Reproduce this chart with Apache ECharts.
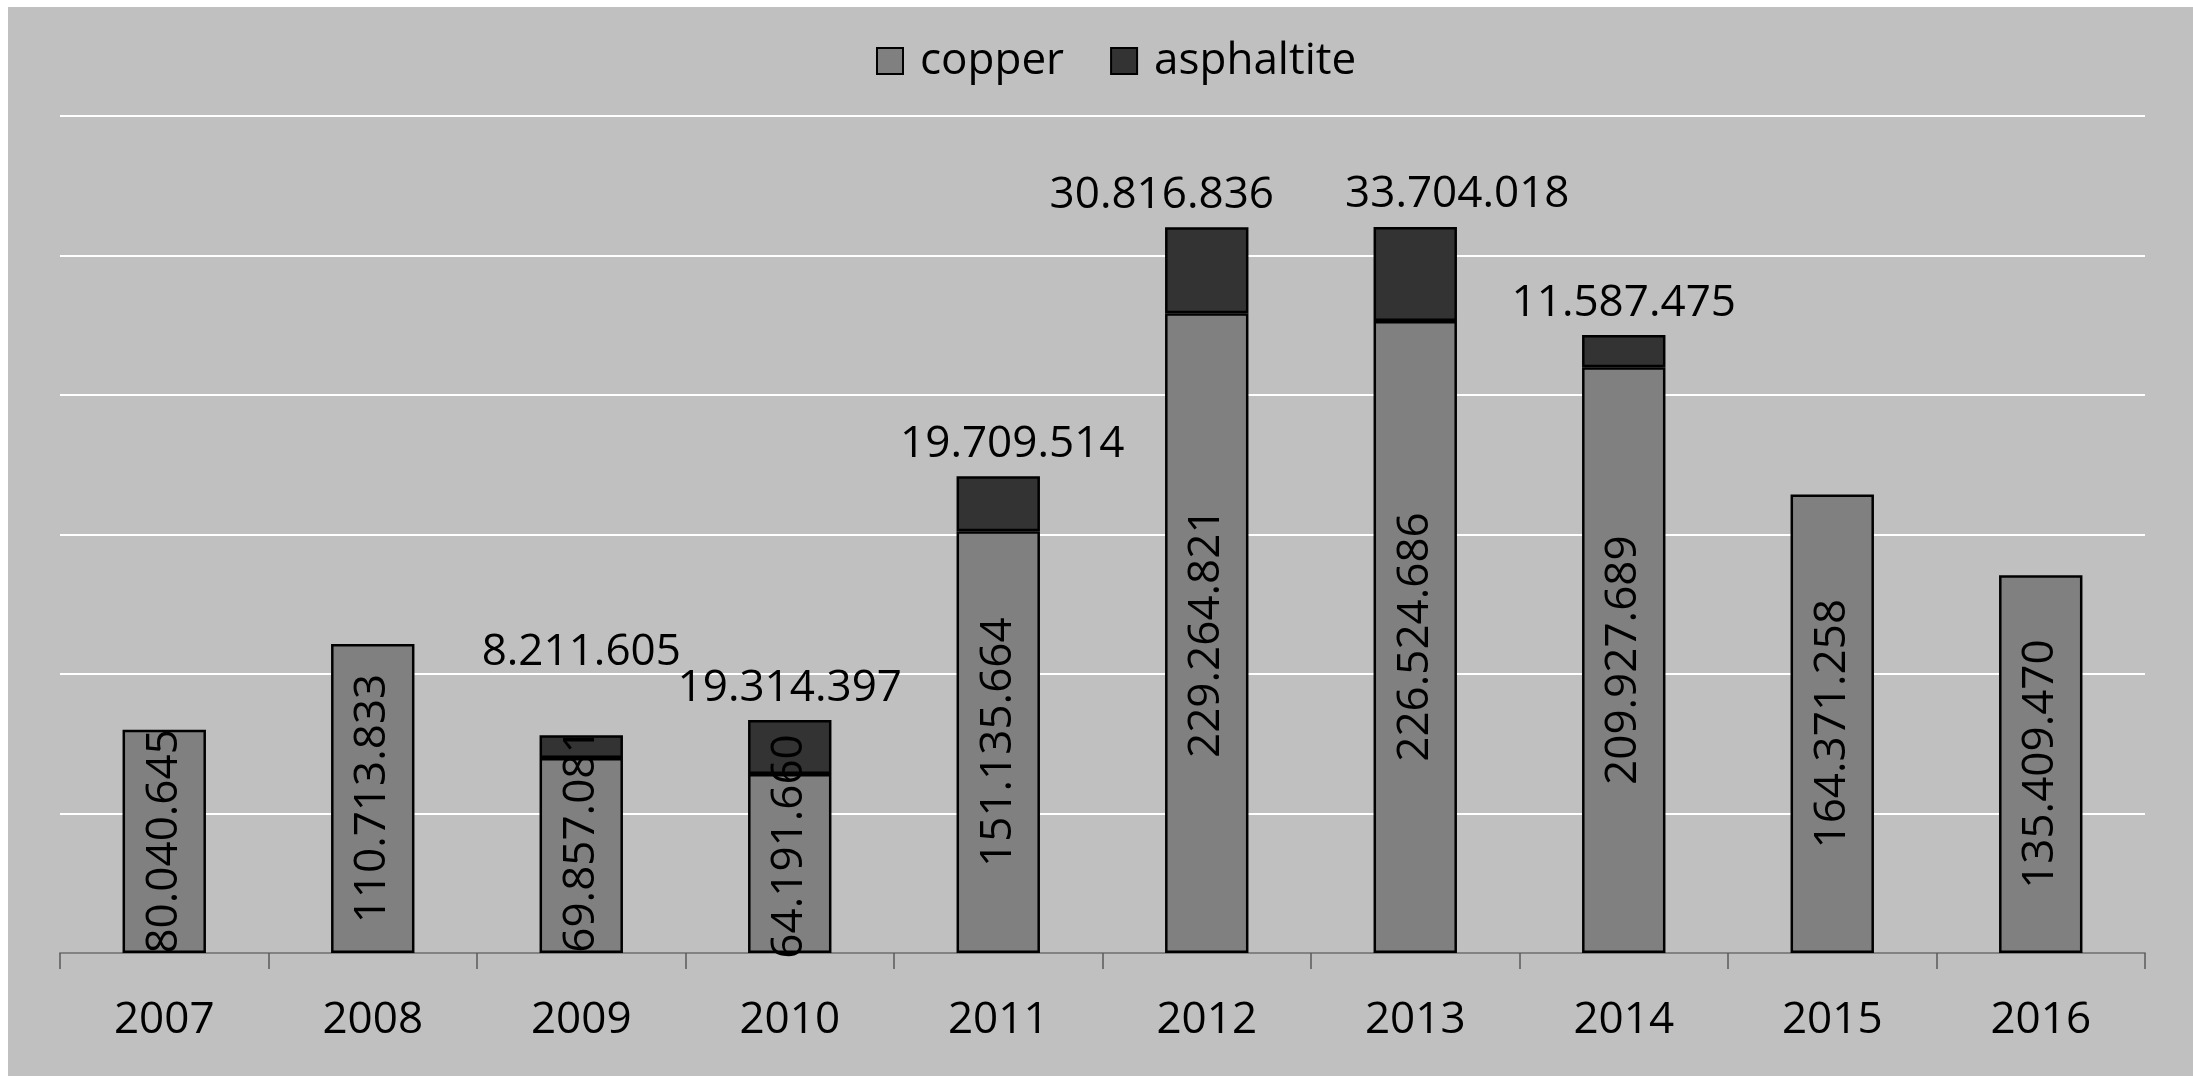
<!DOCTYPE html>
<html>
<head>
<meta charset="utf-8">
<title>copper / asphaltite</title>
<script src="https://cdn.jsdelivr.net/npm/echarts@6/dist/echarts.min.js"></script>
<style>
  html, body { margin: 0; padding: 0; background: #ffffff; }
  #wrap { position: relative; width: 2193px; height: 1076px; }
  #bg { position: absolute; left: 8px; top: 7px; right: 0; bottom: 0; background: #c0c0c0; }
  #main { position: absolute; left: 0; top: 0; width: 2193px; height: 1076px; }
</style>
</head>
<body>
<div id="wrap">
  <div id="bg"></div>
  <div id="main"></div>
</div>
<script>
var years = ['2007', '2008', '2009', '2010', '2011', '2012', '2013', '2014', '2015', '2016'];
var copper = [80040645, 110713833, 69857081, 64191660, 151135664, 229264821, 226524686, 209927689, 164371258, 135409470];
var asphaltite = [null, null, 8211605, 19314397, 19709514, 30816836, 33704018, 11587475, null, null];

// thousands separated by dots, like in the original
function dots(v) {
  return String(v).replace(/\B(?=(\d{3})+(?!\d))/g, '.');
}

var FONT = '"Open Sans", "Noto Sans", sans-serif';

// labels that were nudged by hand in the original
// (inside labels are rotated, so their offset runs along the text)
var topShift = { 2: [0, -51], 4: [14, 0], 5: [-45, 0], 6: [42, 0] };
var insideShift = { 2: [15, 0], 3: [17, 0] };

var copperData = copper.map(function (v, i) {
  var item = { value: v };
  if (insideShift[i]) item.label = { offset: insideShift[i] };
  return item;
});
var asphData = asphaltite.map(function (v, i) {
  if (v == null) return '-';
  var item = { value: v };
  if (topShift[i]) item.label = { offset: topShift[i] };
  return item;
});

var chart = echarts.init(document.getElementById('main'), null, { renderer: 'canvas' });
var option = {
  backgroundColor: 'transparent',
  animation: false,
  textStyle: { fontFamily: FONT },
  legend: {
    top: 34,
    left: 871,
    itemWidth: 26,
    itemHeight: 26,
    itemGap: 46,
    icon: 'rect',
    textStyle: { fontSize: 44, color: '#000', fontFamily: FONT, padding: [0, 0, 0, 12] },
    data: [
      { name: 'copper', itemStyle: { color: '#808080', borderColor: '#000', borderWidth: 2 } },
      { name: 'asphaltite', itemStyle: { color: '#333333', borderColor: '#000', borderWidth: 2 } }
    ]
  },
  grid: { left: 60, right: 48, top: 116, bottom: 123 },
  xAxis: {
    type: 'category',
    data: years,
    boundaryGap: true,
    axisLine: { lineStyle: { color: '#595959', width: 1.5 } },
    axisTick: { show: true, length: 16, lineStyle: { color: '#595959', width: 1.5 } },
    axisLabel: { color: '#000', fontSize: 44, lineHeight: 44, margin: 45, fontFamily: FONT }
  },
  yAxis: {
    type: 'value',
    min: 0,
    max: 300000000,
    interval: 50000000,
    axisLine: { show: false },
    axisTick: { show: false },
    axisLabel: { show: false },
    splitLine: { lineStyle: { color: '#ffffff', width: 2 } }
  },
  series: [
    {
      name: 'copper',
      type: 'bar',
      stack: 'total',
      barWidth: '40%',
      data: copperData,
      itemStyle: { color: '#808080', borderColor: '#000', borderWidth: 2.5 },
      label: {
        show: true,
        position: 'inside',
        rotate: 90,
        color: '#000',
        fontSize: 44,
        fontFamily: FONT,
        formatter: function (p) { return dots(p.value); }
      }
    },
    {
      name: 'asphaltite',
      type: 'bar',
      stack: 'total',
      barWidth: '40%',
      data: asphData,
      itemStyle: { color: '#333333', borderColor: '#000', borderWidth: 2.5 },
      label: {
        show: true,
        position: 'top',
        distance: 10,
        color: '#000',
        fontSize: 44,
        fontFamily: FONT,
        formatter: function (p) { return dots(p.value); }
      }
    }
  ]
};
chart.setOption(option);
</script>
</body>
</html>
